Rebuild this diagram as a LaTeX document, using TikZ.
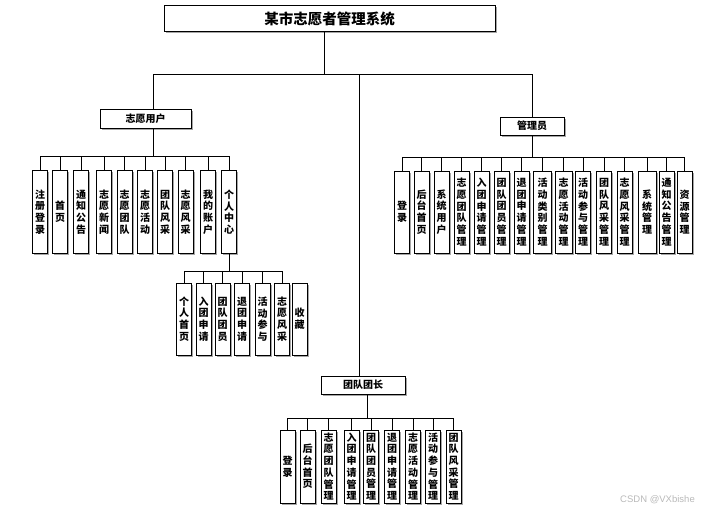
\documentclass[tikz,border=0pt]{standalone}
\usepackage{fontspec}
\newfontfamily\cjk{Noto Sans CJK SC}
\newfontfamily\wmfont{Liberation Sans}
\usetikzlibrary{shadows}
\tikzset{
  topbox/.style={draw=black,fill=white,drop shadow={shadow xshift=1.5pt,shadow yshift=-1.5pt,fill=gray!70,opacity=1},minimum width=331pt,minimum height=26pt,inner sep=0pt,font=\cjk\bfseries\fontsize{14.5}{16}\selectfont},
  rolebox/.style={draw=black,fill=white,drop shadow={shadow xshift=1.5pt,shadow yshift=-1.5pt,fill=gray!70,opacity=1},minimum height=19pt,inner sep=0pt,font=\cjk\bfseries\fontsize{10}{12}\selectfont},
  leaf/.style={draw=black,fill=white,drop shadow={shadow xshift=1.5pt,shadow yshift=-1.5pt,fill=gray!70,opacity=1},minimum width=15pt,inner sep=0pt,align=center,font=\cjk\bfseries\fontsize{10}{11.7}\selectfont},
  wire/.style={draw=black,line width=0.8pt}
}
\begin{document}
\begin{tikzpicture}[x=1pt,y=-1pt]
  \useasboundingbox (0,0) rectangle (719,514);

  \node (title) [topbox] at (329.5,18.5) {某市志愿者管理系统};

  % three roles under the top bus
  \node (user) [rolebox,minimum width=91pt] at (145.5,118.5) {志愿用户};
  \node (admin) [rolebox,minimum width=64pt,minimum height=18pt] at (532,126) {管理员};
  \node (leader) [rolebox,minimum width=84pt,minimum height=18pt] at (363,385) {团队团长};

  \coordinate (topbus) at (324,74);
  \draw[wire] ([xshift=-5.5pt]title.south) -- (topbus);
  \draw[wire] (topbus) -| ([xshift=7.5pt]user.north);
  \draw[wire] (topbus) -| (admin.north);
  \draw[wire] (topbus) -| ([xshift=-4pt]leader.north);

  % volunteer user row
  \node (u1) [leaf,minimum height=83pt] at (40,212) {注\\册\\登\\录};
  \node (u2) [leaf,minimum height=83pt] at (60,212) {首\\页};
  \node (u3) [leaf,minimum height=83pt] at (81,212) {通\\知\\公\\告};
  \node (u4) [leaf,minimum height=83pt] at (104,212) {志\\愿\\新\\闻};
  \node (u5) [leaf,minimum height=83pt] at (124.5,212) {志\\愿\\团\\队};
  \node (u6) [leaf,minimum height=83pt] at (145,212) {志\\愿\\活\\动};
  \node (u7) [leaf,minimum height=83pt] at (165,212) {团\\队\\风\\采};
  \node (u8) [leaf,minimum height=83pt] at (185.5,212) {志\\愿\\风\\采};
  \node (u9) [leaf,minimum height=83pt] at (208,212) {我\\的\\账\\户};
  \node (u10) [leaf,minimum height=83pt] at (229,212) {个\\人\\中\\心};

  \coordinate (userbus) at (153,156);
  \draw[wire] ([xshift=7.5pt]user.south) -- (userbus);
  \foreach \i in {1,...,10} \draw[wire] (userbus) -| (u\i.north);

  % personal centre row
  \node (p1) [leaf,minimum height=72pt] at (184,319) {个\\人\\首\\页};
  \node (p2) [leaf,minimum height=72pt] at (203.5,319) {入\\团\\申\\请};
  \node (p3) [leaf,minimum height=72pt] at (222.5,319) {团\\队\\团\\员};
  \node (p4) [leaf,minimum height=72pt] at (242,319) {退\\团\\申\\请};
  \node (p5) [leaf,minimum height=72pt] at (262.5,319) {活\\动\\参\\与};
  \node (p6) [leaf,minimum height=72pt] at (282,319) {志\\愿\\风\\采};
  \node (p7) [leaf,minimum height=72pt] at (299.5,319) {收\\藏};

  \coordinate (centrebus) at (229,271);
  \draw[wire] (u10.south) -- (centrebus);
  \foreach \i in {1,...,6} \draw[wire] (centrebus) -| (p\i.north);

  % administrator row
  \node (a1) [leaf,minimum height=82pt] at (402,212) {登\\录};
  \node (a2) [leaf,minimum height=82pt] at (421.5,212) {后\\台\\首\\页};
  \node (a3) [leaf,minimum height=82pt] at (441.5,212) {系\\统\\用\\户};
  \node (a4) [leaf,minimum height=82pt] at (461.5,212) {志\\愿\\团\\队\\管\\理};
  \node (a5) [leaf,minimum height=82pt] at (481.5,212) {入\\团\\申\\请\\管\\理};
  \node (a6) [leaf,minimum height=82pt] at (501.5,212) {团\\队\\团\\员\\管\\理};
  \node (a7) [leaf,minimum height=82pt] at (521.5,212) {退\\团\\申\\请\\管\\理};
  \node (a8) [leaf,minimum height=82pt,minimum width=18pt] at (542.5,212) {活\\动\\类\\别\\管\\理};
  \node (a9) [leaf,minimum height=82pt,minimum width=17pt] at (563.5,212) {志\\愿\\活\\动\\管\\理};
  \node (a10) [leaf,minimum height=82pt] at (583,212) {活\\动\\参\\与\\管\\理};
  \node (a11) [leaf,minimum height=82pt] at (604,212) {团\\队\\风\\采\\管\\理};
  \node (a12) [leaf,minimum height=82pt] at (624.5,212) {志\\愿\\风\\采\\管\\理};
  \node (a13) [leaf,minimum height=82pt,minimum width=18pt] at (647,212) {系\\统\\管\\理};
  \node (a14) [leaf,minimum height=82pt] at (666.5,212) {通\\知\\公\\告\\管\\理};
  \node (a15) [leaf,minimum height=82pt] at (684.5,212) {资\\源\\管\\理};

  \coordinate (adminbus) at (532,157);
  \draw[wire] (admin.south) -- (adminbus);
  \foreach \i in {1,...,15} \draw[wire] (adminbus) -| (a\i.north);

  % team leader row
  \node (l1) [leaf,minimum height=73pt] at (287.5,466.5) {登\\录};
  \node (l2) [leaf,minimum height=73pt] at (307.5,466.5) {后\\台\\首\\页};
  \node (l3) [leaf,minimum height=73pt] at (328.5,466.5) {志\\愿\\团\\队\\管\\理};
  \node (l4) [leaf,minimum height=73pt] at (351.5,466.5) {入\\团\\申\\请\\管\\理};
  \node (l5) [leaf,minimum height=73pt] at (371,466.5) {团\\队\\团\\员\\管\\理};
  \node (l6) [leaf,minimum height=73pt] at (392,466.5) {退\\团\\申\\请\\管\\理};
  \node (l7) [leaf,minimum height=73pt] at (413,466.5) {志\\愿\\活\\动\\管\\理};
  \node (l8) [leaf,minimum height=73pt] at (433,466.5) {活\\动\\参\\与\\管\\理};
  \node (l9) [leaf,minimum height=73pt] at (453.5,466.5) {团\\队\\风\\采\\管\\理};

  \coordinate (leaderbus) at (367,418);
  \draw[wire] ([xshift=4pt]leader.south) -- (leaderbus);
  \foreach \i in {1,...,9} \draw[wire] (leaderbus) -| (l\i.north);

  \node (mark) [text=gray!55,font=\wmfont\fontsize{9.5}{11}\selectfont] at (657.5,500) {CSDN @VXbishe};
\end{tikzpicture}
\end{document}
